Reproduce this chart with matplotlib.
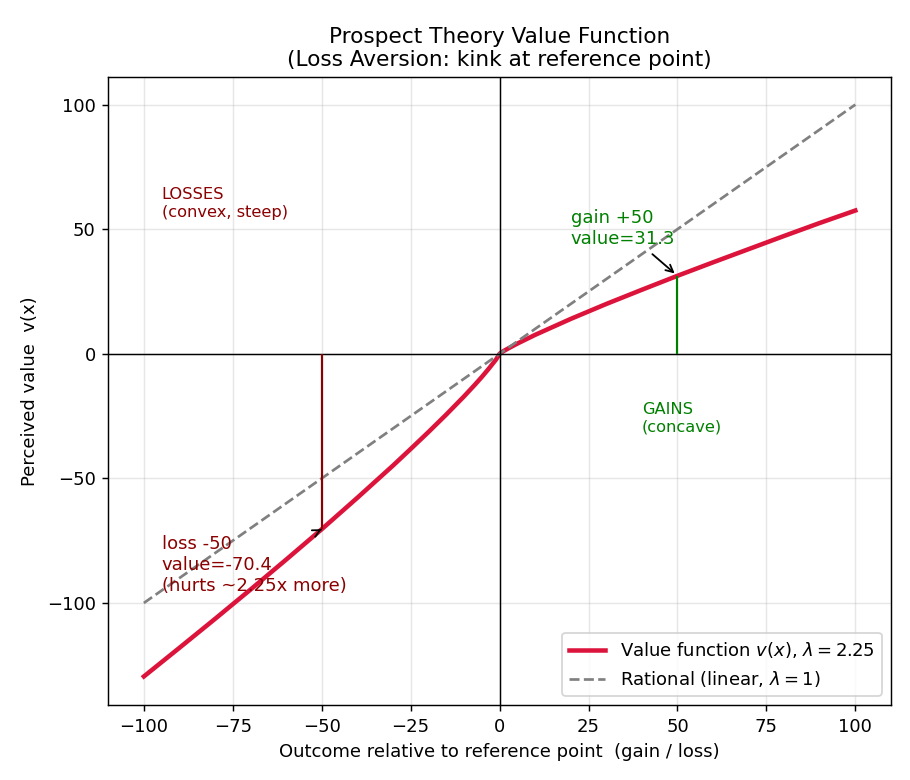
import matplotlib.pyplot as plt

# values
x_vals = [-100, -90, -80, -70, -60, -50, -40, -30, -25, -20, -15, -10, -7, -5, -3, -2, -1, 0,
          1, 2, 3, 5, 7, 10, 15, 20, 25, 30, 40, 50, 60, 70, 80, 90, 100]
v_vals = [-129.5, -118.0, -106.4, -94.6, -82.6, -70.4, -57.8, -44.9, -38.2, -31.4, -24.4, -17.1,
          -12.5, -9.3, -5.9, -4.1, -2.3, 0,
          1.0, 1.8, 2.6, 4.1, 5.5, 7.6, 10.8, 14.0, 17.0, 20.0, 25.7, 31.3, 36.7, 42.0, 47.3, 52.5, 57.5]
lin_x = [-100, 100]
lin_y = [-100, 100]

gain_x, gain_v = 50, 31.3
loss_x, loss_v = -50, -70.4

fig, ax = plt.subplots(figsize=(7, 6), dpi=130)

ax.plot(x_vals, v_vals, color='crimson', linewidth=2.5,
        label=r'Value function $v(x)$, $\lambda=2.25$')
ax.plot(lin_x, lin_y, color='gray', linestyle='--', linewidth=1.5,
        label=r'Rational (linear, $\lambda=1$)')

ax.axhline(0, color='black', linewidth=0.8)
ax.axvline(0, color='black', linewidth=0.8)

ax.vlines(gain_x, 0, gain_v, color='green', linewidth=1.2)
ax.vlines(loss_x, 0, loss_v, color='darkred', linewidth=1.2)

ax.annotate(f'gain +{gain_x}\nvalue={gain_v}', xy=(gain_x, gain_v), xytext=(20, 44),
            color='green', fontsize=10,
            arrowprops=dict(arrowstyle='->', color='black', lw=1))
ax.annotate(f'loss {loss_x}\nvalue={loss_v}\n(hurts ~2.25x more)', xy=(loss_x, loss_v),
            xytext=(-95, -95), color='darkred', fontsize=10,
            arrowprops=dict(arrowstyle='->', color='black', lw=1))

ax.text(-95, 55, 'LOSSES\n(convex, steep)', color='darkred', fontsize=9)
ax.text(40, -31, 'GAINS\n(concave)', color='green', fontsize=9)

ax.set_xlim(-110, 110)
ax.set_ylim(-141, 111)
ax.set_xticks([-100, -75, -50, -25, 0, 25, 50, 75, 100])
ax.set_yticks([-100, -50, 0, 50, 100])
ax.grid(True, alpha=0.3)

ax.set_title('Prospect Theory Value Function\n(Loss Aversion: kink at reference point)', fontsize=12)
ax.set_xlabel('Outcome relative to reference point  (gain / loss)')
ax.set_ylabel('Perceived value  v(x)')
ax.legend(loc='lower right')

plt.subplots_adjust(left=0.119, right=0.979, top=0.901, bottom=0.096)
plt.savefig('out.png')
